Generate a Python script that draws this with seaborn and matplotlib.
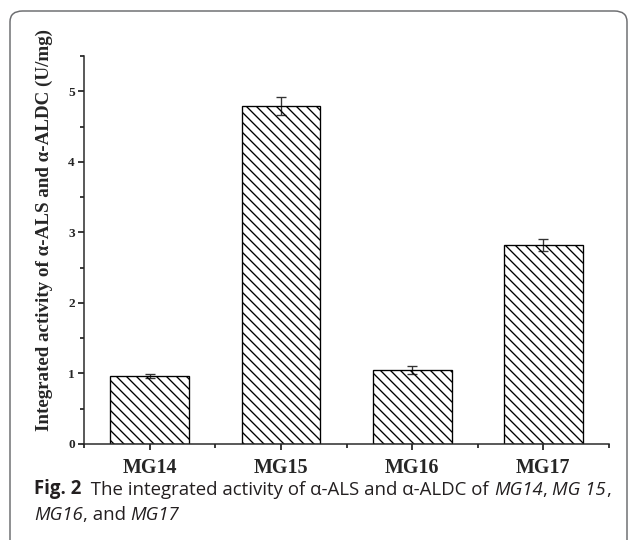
import numpy as np
import pandas as pd
import seaborn as sns
import matplotlib.pyplot as plt
from matplotlib.patches import FancyBboxPatch
from matplotlib.ticker import MultipleLocator

# values
strains = ["MG14", "MG15", "MG16", "MG17"]
activity = [0.96, 4.79, 1.05, 2.82]
activity_err = [0.03, 0.13, 0.06, 0.08]

data = pd.DataFrame({"strain": strains, "activity": activity})

sns.set_style("ticks")
plt.rcParams["hatch.linewidth"] = 0.8
plt.rcParams["hatch.color"] = "black"

fig = plt.figure(figsize=(5.25, 4.5), dpi=120)
ax = fig.add_axes([84 / 630, 1 - 444 / 540, (609 - 84) / 630, (444 - 56) / 540])

# error bars behind the bars, like the original
ax.errorbar(np.arange(len(strains)), activity, yerr=activity_err, fmt="none",
            ecolor="#333333", elinewidth=0.8, capsize=3, capthick=0.8, zorder=1)
sns.barplot(data=data, x="strain", y="activity", ax=ax, color="white",
            edgecolor="black", linewidth=0.8, width=0.6, errorbar=None,
            hatch=chr(92) * 4, zorder=2)
for bar in ax.patches:
    bar.set_facecolor("none")

ax.set_xlim(-0.5, 3.5)
ax.set_ylim(0, 5.5)
ax.yaxis.set_major_locator(MultipleLocator(1))
ax.yaxis.set_minor_locator(MultipleLocator(0.5))
ax.xaxis.set_minor_locator(MultipleLocator(0.5))
ax.set_xticks(range(len(strains)))
ax.set_xticklabels(strains)

sns.despine(ax=ax)
for side in ["left", "bottom"]:
    ax.spines[side].set_linewidth(0.9)
ax.tick_params(axis="both", which="major", direction="out", length=3.5, width=0.9, color="black")
ax.tick_params(axis="both", which="minor", direction="out", length=2.3, width=0.9, color="black")
ax.tick_params(axis="y", labelsize=8, pad=2)
ax.tick_params(axis="x", labelsize=12, pad=5)
for lab in ax.get_xticklabels() + ax.get_yticklabels():
    lab.set_family("Liberation Serif")
    lab.set_fontweight("bold")

ax.set_xlabel("")
ax.set_ylabel("")
fig.text(44 / 630, 1 - 230 / 540, "Integrated activity of α-ALS and α-ALDC (U/mg)",
         rotation=90, ha="center", va="center", family="Liberation Serif",
         fontweight="bold", fontsize=11.4)

# rounded frame around figure + caption
frame = FancyBboxPatch((10 / 630, -0.05), 617 / 630, 1.05 - 11 / 540,
                       boxstyle="round,pad=0,rounding_size=0.02",
                       transform=fig.transFigure, facecolor="none",
                       edgecolor="#6d6e71", linewidth=0.9)
fig.patches.append(frame)

# caption, written piece by piece to mix bold, regular and italic
cap_font = "Open Sans"
cap_size = 11.2
cap_color = "#231f20"
line1 = [("Fig. 2", "bold", "normal"),
         ("  The integrated activity of α-ALS and α-ALDC of ", "normal", "normal"),
         ("MG14", "normal", "italic"), (", ", "normal", "normal"),
         ("MG 15", "normal", "italic"), (",", "normal", "normal")]
line2 = [("MG16", "normal", "italic"), (", and ", "normal", "normal"),
         ("MG17", "normal", "italic")]

for y_px, pieces in [(494, line1), (520, line2)]:
    prev = None
    for s, w, st in pieces:
        if prev is None:
            prev = fig.text(34 / 630, 1 - y_px / 540, s, ha="left", va="baseline",
                            family=cap_font, fontweight=w, style=st,
                            fontsize=cap_size, color=cap_color)
        else:
            prev = ax.annotate(s, xy=(1, 0), xycoords=prev, ha="left", va="bottom",
                               family=cap_font, fontweight=w, style=st,
                               fontsize=cap_size, color=cap_color,
                               annotation_clip=False)

fig.savefig("out.png", dpi=120)
